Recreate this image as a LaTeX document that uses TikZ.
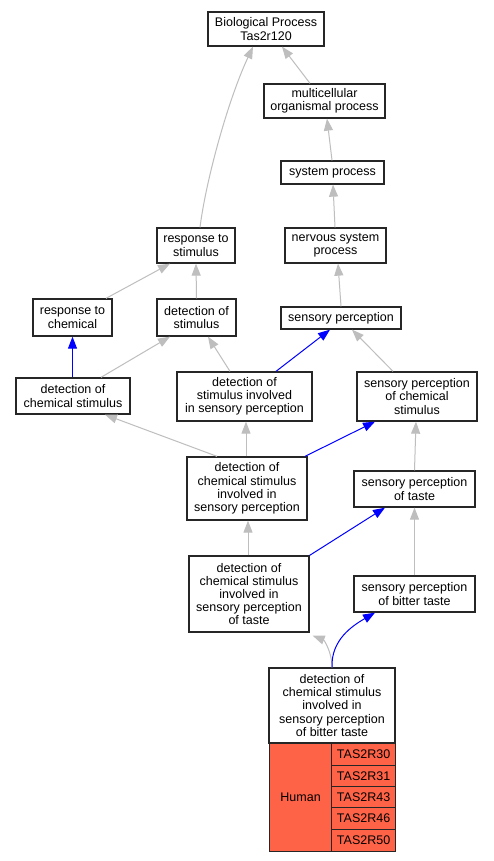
\documentclass[tikz,border=0pt]{standalone}
\usepackage{fontspec}
\setmainfont{Liberation Sans}
\usetikzlibrary{arrows.meta}
\definecolor{edgegray}{HTML}{BEBEBE}
\definecolor{tomato}{HTML}{FF6347}
\begin{document}
\begin{tikzpicture}[x=1pt,y=-1pt,
  every node/.style={font=\fontsize{12.5}{13.2}\selectfont},
  box/.style={draw=black!85,line width=1.3pt,fill=white,rectangle,inner sep=0pt,align=center},
  cell/.style={draw=black!85,line width=1.2pt,fill=tomato,rectangle,inner sep=0pt,anchor=north west,align=center},
  isa/.style={draw=edgegray,line width=1pt,-{Triangle[length=12pt,width=9pt]}},
  blueedge/.style={draw=blue,line width=1pt,-{Triangle[length=12pt,width=9pt]}}]
\useasboundingbox (0,0) rectangle (493,861);
\fill[white] (0,0) rectangle (493,861);

% nodes
\node[box,minimum width=116,minimum height=34] (bp) at (266,29) {Biological Process\\Tas2r120};
\node[box,minimum width=121,minimum height=34] (mop) at (324.5,101) {multicellular\\organismal process};
\node[box,minimum width=103,minimum height=23] (sys) at (332.5,172.5) {system process};
\node[box,minimum width=101,minimum height=35] (nsp) at (335.5,245.5) {nervous system\\process};
\node[box,minimum width=78,minimum height=35] (rts) at (196,245.5) {response to\\stimulus};
\node[box,minimum width=79,minimum height=37] (rtc) at (72.5,317.5) {response to\\chemical};
\node[box,minimum width=79,minimum height=37] (dos) at (196.5,317.5) {detection of\\stimulus};
\node[box,minimum width=114,minimum height=36] (dcs) at (73,396) {detection of\\chemical stimulus};
\node[box,minimum width=120,minimum height=22] (sp) at (341,318) {sensory perception};
\node[box,minimum width=135,minimum height=49] (dsisp) at (244.5,396.5) {detection of\\stimulus involved\\in sensory perception};
\node[box,minimum width=120,minimum height=49] (spcs) at (417,396.5) {sensory perception\\of chemical\\stimulus};
\node[box,minimum width=120,minimum height=63] (dcsisp) at (247,488.5) {detection of\\chemical stimulus\\involved in\\sensory perception};
\node[box,minimum width=121,minimum height=36] (spt) at (414.5,489) {sensory perception\\of taste};
\node[box,minimum width=120,minimum height=76] (dcsispt) at (249,594) {detection of\\chemical stimulus\\involved in\\sensory perception\\of taste};
\node[box,minimum width=121,minimum height=36] (spbt) at (414.5,594) {sensory perception\\of bitter taste};
\node[box,minimum width=126,minimum height=75] (bot) at (332,705.5) {detection of\\chemical stimulus\\involved in\\sensory perception\\of bitter taste};

% table
\node[cell,minimum width=62,minimum height=108] (human) at (269,743) {Human};
\node[cell,minimum width=64,minimum height=22] (g1) at (331,743) {TAS2R30};
\node[cell,minimum width=64,minimum height=21] (g2) at (331,765) {TAS2R31};
\node[cell,minimum width=64,minimum height=21] (g3) at (331,786) {TAS2R43};
\node[cell,minimum width=64,minimum height=22] (g4) at (331,807) {TAS2R46};
\node[cell,minimum width=64,minimum height=22] (g5) at (331,829) {TAS2R50};

% edges
\draw[isa] ([xshift=-14.5]mop.north) -- ([xshift=16]bp.south);
\draw[isa] ([xshift=4]rts.north) .. controls (206,180) and (228,100) .. ([xshift=-13]bp.south);
\draw[isa] ([xshift=-0.5]sys.north) -- ([xshift=2.5]mop.south);
\draw[isa] ([xshift=-0.5]nsp.north) -- ([xshift=0.5]sys.south);
\draw[isa] (sp.north) -- ([xshift=2.5]nsp.south);
\draw[isa] (dos.north) -- (rts.south);
\draw[isa] ([xshift=33.5]rtc.north) -- ([xshift=-26]rts.south);
\draw[blueedge] ([xshift=-0.5]dcs.north) -- (rtc.south);
\draw[isa] ([xshift=28]dcs.north) -- ([xshift=-26.5]dos.south);
\draw[isa] ([xshift=-14.5]dsisp.north) -- ([xshift=11.5]dos.south);
\draw[blueedge] ([xshift=31.5]dsisp.north) -- ([xshift=-11]sp.south);
\draw[isa] ([xshift=-24]spcs.north) -- ([xshift=11]sp.south);
\draw[isa] ([xshift=-30]dcsisp.north) -- ([xshift=32]dcs.south);
\draw[isa] ([xshift=-1]dcsisp.north) -- ([xshift=1.5]dsisp.south);
\draw[blueedge] ([xshift=58]dcsisp.north) -- ([xshift=-42]spcs.south);
\draw[isa] (spt.north) -- ([xshift=-1]spcs.south);
\draw[isa] ([xshift=-1]dcsispt.north) -- ([xshift=1]dcsisp.south);
\draw[blueedge] (dcsispt.north east) -- ([xshift=-29.5]spt.south);
\draw[isa] (spbt.north) -- (spt.south);
\draw[isa] (bot.north) .. controls (332,652) and (324,640) .. ([xshift=3,yshift=-3]dcsispt.south east);
\draw[blueedge] (bot.north) .. controls (331,640) and (352,626) .. ([xshift=-39.5]spbt.south);
\end{tikzpicture}
\end{document}
